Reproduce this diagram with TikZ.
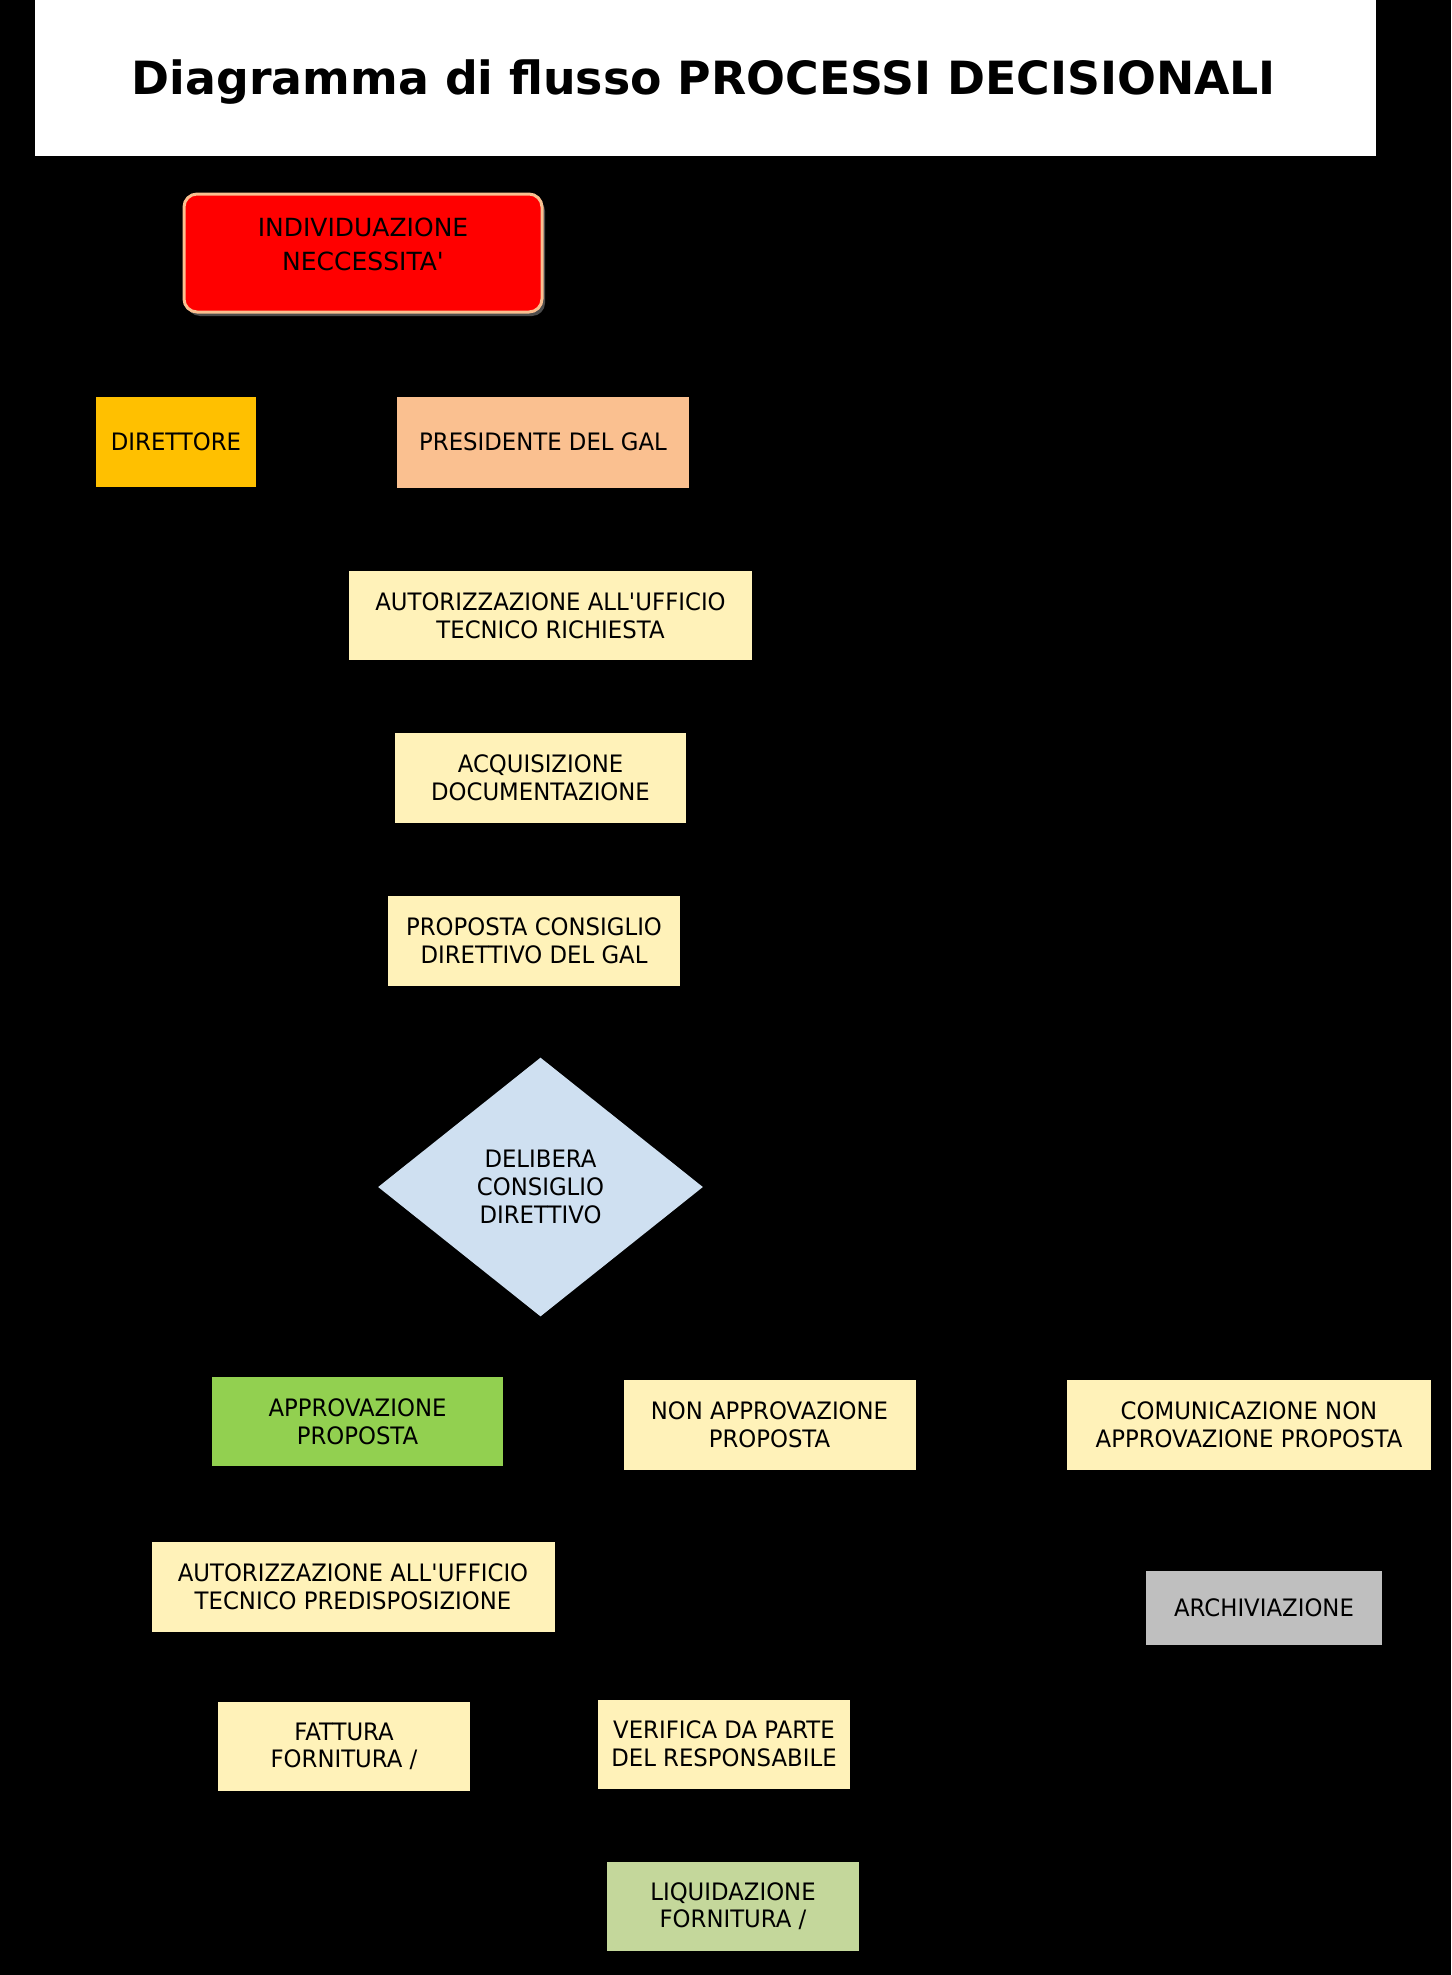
\documentclass[tikz,border=0pt]{standalone}
\usepackage{fontspec}
\setmainfont{DejaVu Sans}[FakeStretch=0.95]
\newfontfamily\widefont{DejaVu Sans}
\newfontfamily\titlefont{DejaVu Sans}
\usetikzlibrary{shapes.geometric,shadows}
\definecolor{peach}{HTML}{FAC090}
\definecolor{amber}{HTML}{FFC000}
\definecolor{paleyel}{HTML}{FFF2B9}
\definecolor{paleblue}{HTML}{CFE0F1}
\definecolor{limegreen}{HTML}{92D050}
\definecolor{sage}{HTML}{C4D79B}
\definecolor{midgray}{HTML}{BFBFBF}
\begin{document}
\begin{tikzpicture}[x=0.5pt,y=-0.5pt,
  box/.style={rectangle, inner sep=0pt, align=center, text=black,
    font=\fontsize{12}{13.8}\selectfont},
  yelbox/.style={box, fill=paleyel}]
\fill[black] (0,0) rectangle (1451,1975);
\useasboundingbox (0,0) rectangle (1451,1975);
\fill[white] (35,0) rectangle (1376,156);
\node[inner sep=0pt] (title) at (704,82) {\resizebox{572pt}{!}{\titlefont\bfseries Diagramma di flusso PROCESSI DECISIONALI}};

\node[box, fill=red, draw=peach, line width=1.5pt, rounded corners=6.5pt,
  minimum width=179pt, minimum height=59pt,
  drop shadow={shadow xshift=1.5pt, shadow yshift=-2pt, fill=black!70!white, opacity=1}]
  (need) at (363,253) {\raisebox{0pt}[\height][\dimexpr\depth+6pt\relax]{\fontsize{12.5}{17}\selectfont\widefont
  \begin{tabular}{@{}c@{}}INDIVIDUAZIONE\\NECCESSITA\textquotesingle\end{tabular}}};

\node[box, fill=amber, minimum width=80pt, minimum height=45pt] (dir) at (176,442) {DIRETTORE};
\node[box, fill=peach, minimum width=146pt, minimum height=45.5pt] (pres) at (543,442) {PRESIDENTE DEL GAL};
\node[yelbox, minimum width=201.5pt, minimum height=44.5pt] (aut1) at (550.5,615.5) {AUTORIZZAZIONE ALL\textquotesingle UFFICIO\\TECNICO RICHIESTA};
\node[yelbox, minimum width=145.5pt, minimum height=45pt] (acq) at (540.5,778) {ACQUISIZIONE\\DOCUMENTAZIONE};
\node[yelbox, minimum width=146pt, minimum height=45pt] (prop) at (534,941) {PROPOSTA CONSIGLIO\\DIRETTIVO DEL GAL};
\node[box, diamond, fill=paleblue, minimum width=162.5pt, minimum height=129.5pt] (del) at (540.5,1187) {DELIBERA\\CONSIGLIO\\DIRETTIVO};
\node[box, fill=limegreen, minimum width=145.5pt, minimum height=44.5pt] (appr) at (357.5,1421.5) {APPROVAZIONE\\PROPOSTA};
\node[yelbox, minimum width=146pt, minimum height=45pt] (nonappr) at (769.5,1425) {NON APPROVAZIONE\\PROPOSTA};
\node[yelbox, minimum width=182pt, minimum height=45pt] (com) at (1249,1425) {COMUNICAZIONE NON\\APPROVAZIONE PROPOSTA};
\node[yelbox, minimum width=201.5pt, minimum height=45pt] (aut2) at (353,1587) {AUTORIZZAZIONE ALL\textquotesingle UFFICIO\\TECNICO PREDISPOSIZIONE};
\node[box, fill=midgray, minimum width=118pt, minimum height=37pt] (arch) at (1264,1607.5) {ARCHIVIAZIONE};
\node[yelbox, minimum width=126pt, minimum height=44.5pt] (fatt) at (344,1746.5) {FATTURA\\FORNITURA /};
\node[yelbox, minimum width=126pt, minimum height=44.5pt] (ver) at (724,1744) {VERIFICA DA PARTE\\DEL RESPONSABILE};
\node[box, fill=sage, minimum width=126pt, minimum height=44.5pt] (liq) at (733,1906) {LIQUIDAZIONE\\FORNITURA /};
\end{tikzpicture}
\end{document}
